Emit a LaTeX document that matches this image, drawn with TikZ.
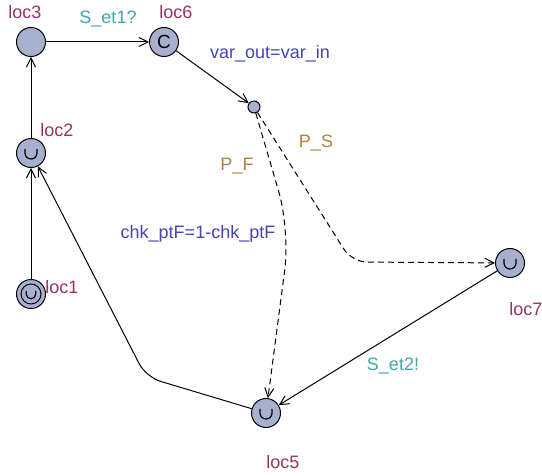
\documentclass[tikz,border=0pt]{standalone}
\usepackage{fontspec}
\setmainfont{Liberation Sans}
\usetikzlibrary{arrows.meta}

\definecolor{locfill}{RGB}{168,176,208}
\definecolor{locname}{RGB}{150,50,100}
\definecolor{syncol}{RGB}{64,168,168}
\definecolor{updcol}{RGB}{68,68,180}
\definecolor{probcol}{RGB}{176,128,64}

\tikzset{
    loc/.style={circle, draw=black, fill=locfill, minimum size=29pt, inner sep=0pt, line width=1pt},
    branch/.style={circle, draw=black, fill=locfill, minimum size=12pt, inner sep=0pt, line width=1pt},
    edge/.style={-{Straight Barb[length=9pt,width=9pt]}, line width=1pt},
    prob/.style={dash pattern=on 6pt off 4pt},
    lbl/.style={font=\fontsize{18}{20}\selectfont, inner sep=0pt},
    urgent/.pic={\draw[line width=1.2pt] (-6,-4) -- (-6,0) arc (180:0:6) -- (6,-4);}
}

\begin{document}
\begin{tikzpicture}[x=1pt, y=-1pt]
        \useasboundingbox (0,0) rectangle (542,476);

        % locations
        \node[loc] (loc3) at (31,42) {};
        \node[loc, font=\fontsize{19}{20}\selectfont] (loc6) at (164,42) {C};
        \node[branch] (br) at (254,107) {};
        \node[loc] (loc2) at (31,153) {};
        \node[loc] (loc1) at (31,294) {};
        \draw[line width=1pt] (loc1.center) circle (10);
        \node[loc] (loc7) at (510,263) {};
        \node[loc] (loc5) at (266,413) {};

        \pic at (loc2.center) {urgent};
        \pic[scale=0.8] at (loc1.center) {urgent};
        \pic at (loc7.center) {urgent};
        \pic at (loc5.center) {urgent};

        % location names
        \node[lbl, text=locname] (n3) at (25,12) {loc3};
        \node[lbl, text=locname] (n6) at (176,12) {loc6};
        \node[lbl, text=locname] (n2) at (57,130) {loc2};
        \node[lbl, text=locname] (n1) at (62,287) {loc1};
        \node[lbl, text=locname] (n7) at (526,309) {loc7};
        \node[lbl, text=locname] (n5) at (283,462) {loc5};

        % edges
        \draw[edge] (loc1) -- (loc2);
        \draw[edge] (loc2) -- (loc3);
        \draw[edge] (loc3) -- (loc6);
        \draw[edge] (loc6) -- (br);
        \draw[edge, prob, rounded corners=40pt] (br) -- (290,230) -- (loc5);
        \draw[edge, prob, rounded corners=15pt] (br) -- (352,262) -- (loc7);
        \draw[edge] (loc7) -- (loc5);
        \draw[edge, rounded corners=15pt] (loc5) -- (146,377) -- (loc2);

        % edge labels
        \node[lbl, text=syncol] (s1) at (108,19) {S\_et1?};
        \node[lbl, text=updcol] (u1) at (270,54) {var\_out=var\_in};
        \node[lbl, text=probcol] (ps) at (316,143) {P\_S};
        \node[lbl, text=probcol] (pf) at (237,166) {P\_F};
        \node[lbl, text=updcol] (u2) at (198,234) {chk\_ptF=1-chk\_ptF};
        \node[lbl, text=syncol] (s2) at (393,366) {S\_et2!};
    \end{tikzpicture}
\end{document}
